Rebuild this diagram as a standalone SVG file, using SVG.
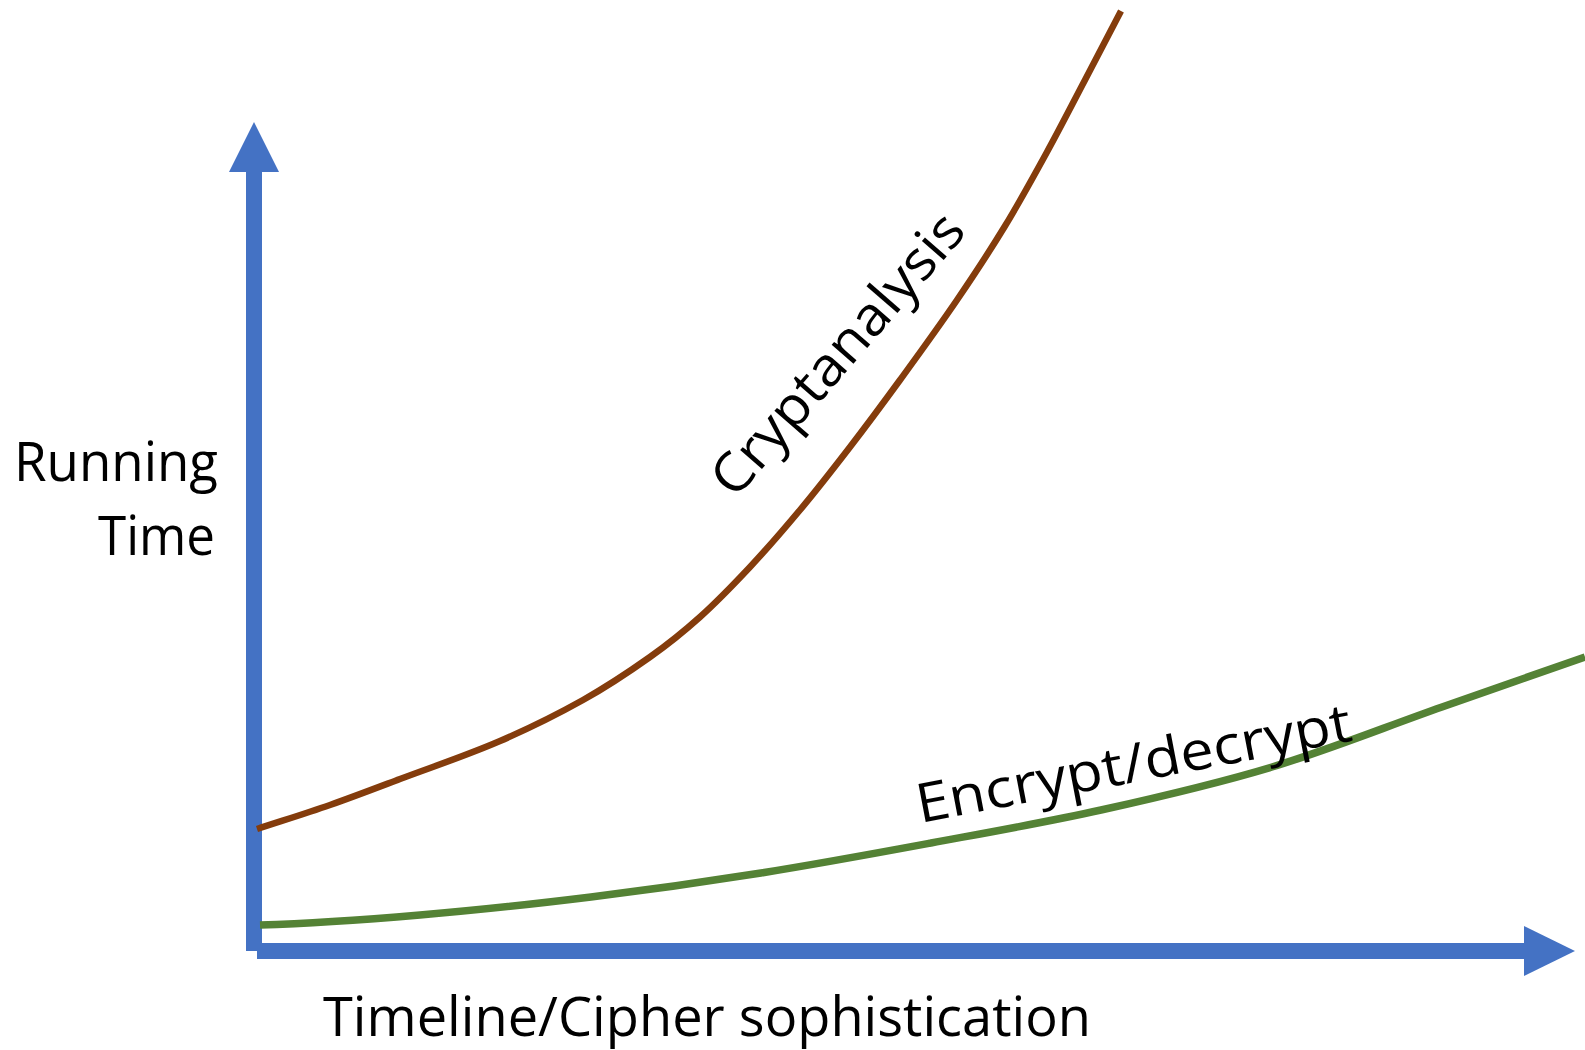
<svg xmlns="http://www.w3.org/2000/svg" width="1585" height="1050" viewBox="0 0 1585 1050">
  <style>
    .axis { fill: #4472C4; }
    .curve { fill: none; stroke-linecap: butt; stroke-linejoin: round; }
    .label { font-family: "Open Sans", "Noto Sans", "DejaVu Sans", sans-serif; font-size: 54px; fill: #000000; }
  </style>
  <rect width="1585" height="1050" fill="#FFFFFF"/>

  <!-- Axes -->
  <g id="axes">
    <rect class="axis" x="246" y="170" width="16" height="781"/>
    <polygon class="axis" points="229,172 279,172 254,122"/>
    <rect class="axis" x="257" y="943" width="1269" height="16"/>
    <polygon class="axis" points="1524,926 1524,976 1575,951"/>
  </g>

  <!-- Curves -->
  <g id="curves">
    <path id="cryptanalysis-curve" class="curve" stroke="#843C0C" stroke-width="6.5"
      d="M257,829 C281.3,821 305.7,813.5 330,805 C353.3,796.8 376.7,787.8 400,779 C433.3,766.5 466.7,755.4 500,741 C527.7,729 555.3,715.5 583,700 C605.3,687.5 627.7,672.8 650,657 C666.7,645.2 683.3,632 700,617 C716.7,602 733.3,584.8 750,567 C766.7,549.2 783.3,530 800,510 C816.7,490 833.3,468.7 850,447 C866.7,425.3 883.3,402.9 900,380 C919,353.9 938,327.9 957,300 C973,276.5 989,252.3 1005,226 C1019,203 1033,177.6 1047,152 C1059.7,128.9 1072.3,104.1 1085,80 C1097,57.1 1109,34 1121,11"/>
    <path id="encrypt-curve" class="curve" stroke="#548235" stroke-width="7.5"
      d="M260,925 C313.3,923.4 366.7,919.5 420,915 C477,910.2 534,904 591,897 C647.7,890 704.3,882 761,873 C817.7,864 874.3,853.5 931,843 C987.7,832.5 1044.3,822.6 1101,810 C1158,797.3 1215,784.2 1272,767 C1328.7,749.9 1385.3,726.9 1442,707 C1489.7,690.3 1537.3,673.7 1585,657"/>
  </g>

  <!-- Labels -->
  <g id="labels">
    <text class="label" x="14" y="481" textLength="204" lengthAdjust="spacingAndGlyphs">Running</text>
    <text class="label" x="98" y="555" textLength="117" lengthAdjust="spacingAndGlyphs">Time</text>
    <text class="label" x="323" y="1036" textLength="768" lengthAdjust="spacingAndGlyphs">Timeline/Cipher sophistication</text>
    <text class="label" transform="translate(735,500) rotate(-49)" x="0" y="0" font-size="57" textLength="355" lengthAdjust="spacingAndGlyphs">Cryptanalysis</text>
    <text class="label" transform="translate(920,823) rotate(-10.8)" x="0" y="0" font-size="57" textLength="442" lengthAdjust="spacingAndGlyphs">Encrypt/decrypt</text>
  </g>
</svg>
